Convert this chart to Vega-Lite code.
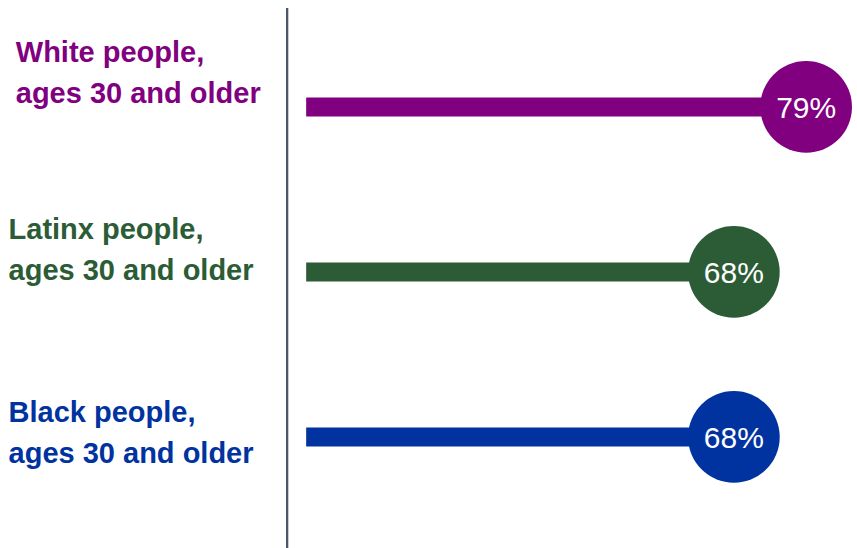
{
  "$schema": "https://vega.github.io/schema/vega-lite/v6.json",
  "width": 857,
  "height": 540,
  "padding": {"left": 0, "right": 0, "top": 8, "bottom": 0},
  "autosize": {"type": "none"},
  "background": "white",
  "config": {"view": {"stroke": null}},
  "data": {
    "values": [
      {"group": "White", "label": "White people,\nages 30 and older", "value": 79, "pct": "79%"},
      {"group": "Latinx", "label": "Latinx people,\nages 30 and older", "value": 68, "pct": "68%"},
      {"group": "Black", "label": "Black people,\nages 30 and older", "value": 68, "pct": "68%"}
    ]
  },
  "layer": [
    {
      "mark": {"type": "rule", "color": "#4b5764", "strokeWidth": 2},
      "encoding": {
        "x": {"datum": 0, "type": "quantitative", "scale": {"domain": [-43.7, 86.74], "nice": false, "zero": false}, "axis": null}
      }
    },
    {
      "mark": {"type": "bar", "size": 19},
      "encoding": {
        "x": {"field": "value", "type": "quantitative", "scale": {"domain": [-43.7, 86.74], "nice": false, "zero": false}, "axis": null},
        "x2": {"datum": 2.9},
        "y": {"field": "group", "type": "nominal", "sort": ["White", "Latinx", "Black"], "scale": {"type": "point", "padding": 0.636, "align": 0.471}, "axis": null},
        "color": {"field": "group", "type": "nominal", "scale": {"domain": ["White", "Latinx", "Black"], "range": ["#800080", "#2b5c35", "#0033a0"]}, "legend": null}
      }
    },
    {
      "mark": {"type": "circle", "size": 8400, "opacity": 1},
      "encoding": {
        "x": {"field": "value", "type": "quantitative"},
        "y": {"field": "group", "type": "nominal", "sort": ["White", "Latinx", "Black"]},
        "color": {"field": "group", "type": "nominal", "legend": null}
      }
    },
    {
      "mark": {"type": "text", "color": "white", "fontSize": 30, "font": "Liberation Sans", "align": "center", "baseline": "middle", "dy": 2},
      "encoding": {
        "x": {"field": "value", "type": "quantitative"},
        "y": {"field": "group", "type": "nominal", "sort": ["White", "Latinx", "Black"]},
        "text": {"field": "pct"}
      }
    },
    {
      "transform": [{"filter": "datum.group === 'White'"}],
      "mark": {"type": "text", "fontSize": 29, "fontWeight": "bold", "font": "Liberation Sans", "align": "left", "baseline": "alphabetic", "lineBreak": "\n", "lineHeight": 41, "dy": -45},
      "encoding": {
        "x": {"datum": -41.3, "type": "quantitative"},
        "y": {"field": "group", "type": "nominal", "sort": ["White", "Latinx", "Black"]},
        "text": {"field": "label"},
        "color": {"field": "group", "type": "nominal", "legend": null}
      }
    },
    {
      "transform": [{"filter": "datum.group === 'Latinx'"}],
      "mark": {"type": "text", "fontSize": 29, "fontWeight": "bold", "font": "Liberation Sans", "align": "left", "baseline": "alphabetic", "lineBreak": "\n", "lineHeight": 41, "dy": -33},
      "encoding": {
        "x": {"datum": -42.4, "type": "quantitative"},
        "y": {"field": "group", "type": "nominal", "sort": ["White", "Latinx", "Black"]},
        "text": {"field": "label"},
        "color": {"field": "group", "type": "nominal", "legend": null}
      }
    },
    {
      "transform": [{"filter": "datum.group === 'Black'"}],
      "mark": {"type": "text", "fontSize": 29, "fontWeight": "bold", "font": "Liberation Sans", "align": "left", "baseline": "alphabetic", "lineBreak": "\n", "lineHeight": 41, "dy": -15},
      "encoding": {
        "x": {"datum": -42.4, "type": "quantitative"},
        "y": {"field": "group", "type": "nominal", "sort": ["White", "Latinx", "Black"]},
        "text": {"field": "label"},
        "color": {"field": "group", "type": "nominal", "legend": null}
      }
    }
  ]
}
